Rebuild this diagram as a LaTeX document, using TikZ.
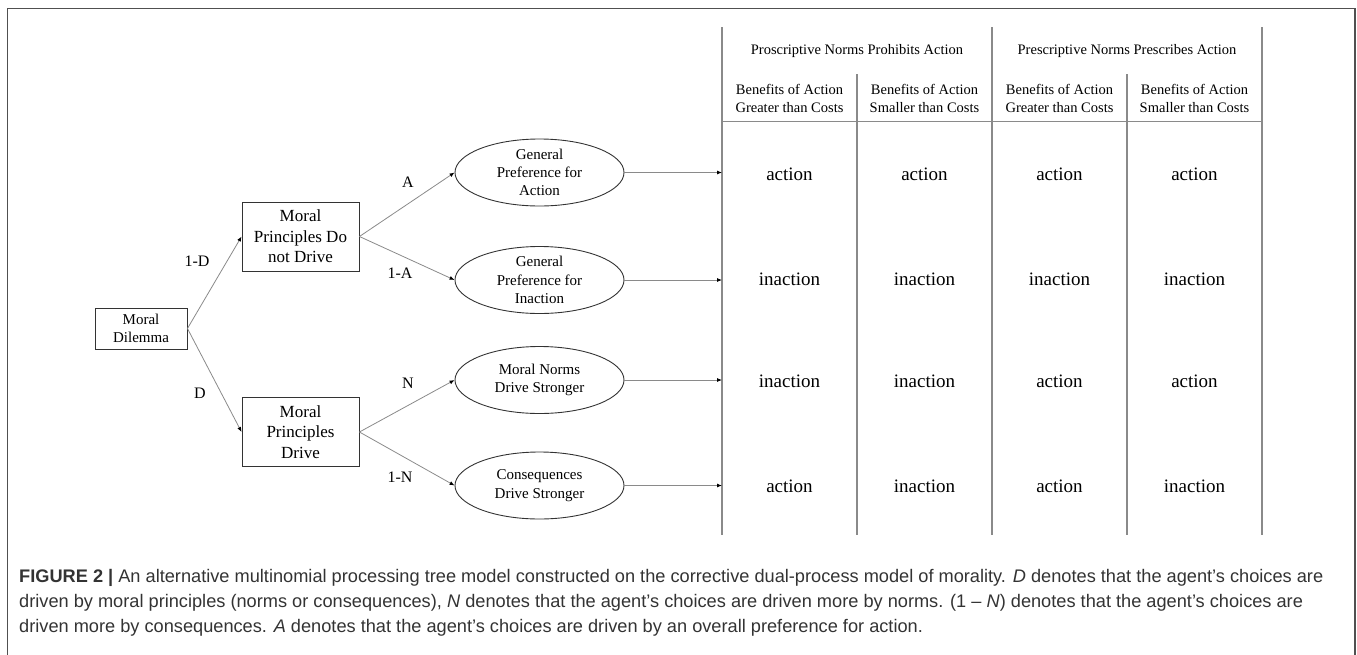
\documentclass[tikz,border=0pt]{standalone}
\usepackage{fontspec}
\setmainfont{Liberation Serif}
\newfontfamily\capfont[Ligatures=TeX]{Liberation Sans}
\usetikzlibrary{shapes.geometric, arrows.meta}
\definecolor{linegray}{HTML}{8A8A8A}
\definecolor{framegray}{HTML}{505050}
\definecolor{captext}{HTML}{333333}
\tikzset{
    base/.style = {draw=black!80, line width=0.9pt, align=center},
    % Tree nodes
    root/.style  = {base, rectangle, minimum width=92pt, minimum height=41pt, inner sep=0pt, font=\fontsize{15}{18}\selectfont},
    state/.style = {base, rectangle, minimum width=117pt, minimum height=69pt, inner sep=0pt, font=\fontsize{17}{20.5}\selectfont},
    pref/.style  = {base, ellipse, minimum width=169pt, minimum height=67pt, inner xsep=0pt, inner ysep=-6pt, font=\fontsize{15}{18.3}\selectfont},
    % Edges and labels
    arrow/.style = {draw=linegray, line width=0.8pt, -{Latex[length=5pt, width=4pt, color=black]}},
    prob/.style  = {font=\fontsize{16}{18}\selectfont},
    % Outcome table
    grid/.style  = {draw=linegray, line width=1.3pt},
    head/.style  = {align=center, font=\fontsize{14.5}{18.3}\selectfont},
    cell/.style  = {font=\fontsize{19}{22}\selectfont},
    caption/.style = {anchor=north west, align=left, inner sep=0pt, text=captext, font=\capfont\fontsize{18.2}{25}\selectfont}
}

\begin{document}
\begin{tikzpicture}[x=1pt, y=-1pt]
    \useasboundingbox (0,0) rectangle (1357,654);
    % Frame (open at the bottom)
    \draw [framegray, line width=1.2pt] (7.5,670) -- (7.5,8.5) -- (1355,8.5) -- (1355,670);

    % Tree
    \node (dilemma) [root]  at (141,328.5) {Moral\\Dilemma};
    \node (nodrive) [state] at (300.5,236.5) {Moral\\Principles Do\\not Drive};
    \node (drive)   [state] at (300.5,432) {Moral\\Principles\\Drive};

    \node (genact)   [pref] at (539.5,172.5) {General\\Preference for\\Action};
    \node (geninact) [pref] at (539.5,280) {General\\Preference for\\Inaction};
    \node (norms)    [pref] at (539.5,380) {Moral Norms\\Drive Stronger};
    \node (conseq)   [pref] at (539.5,485.5) {Consequences\\Drive Stronger};

    \draw [arrow] (dilemma.east) -- (nodrive.west);
    \draw [arrow] (dilemma.east) -- (drive.west);
    \draw [arrow] (nodrive.east) -- (genact.west);
    \draw [arrow] (nodrive.east) -- (geninact.west);
    \draw [arrow] (drive.east) -- (norms.west);
    \draw [arrow] (drive.east) -- (conseq.west);

    \node (p1d) [prob] at (197,261) {1-D};
    \node (pd)  [prob] at (200,393) {D};
    \node (pa)  [prob] at (408,182) {A};
    \node (p1a) [prob] at (400,273) {1-A};
    \node (pn)  [prob] at (408,383) {N};
    \node (p1n) [prob] at (400,477) {1-N};

    % Outcome table
    \coordinate (tab) at (722,27);
    \foreach \x in {722,992,1262}
        \draw [grid] (\x,27) -- (\x,535);
    \foreach \x in {857,1127}
        \draw [grid] (\x,74) -- (\x,535);
    \draw [grid] (722,121.5) -- (1262,121.5);

    \node (proscr) [head] at (857,51) {Proscriptive Norms Prohibits Action};
    \node (prescr) [head] at (1127,51) {Prescriptive Norms Prescribes Action};
    \foreach \c/\x/\t in {1/789.5/Greater, 2/924.5/Smaller, 3/1059.5/Greater, 4/1194.5/Smaller}
        \node (sub\c) [head] at (\x,98.5) {Benefits of Action\\\t\ than Costs};

    \draw [arrow] (genact.east) -- (genact.east -| tab);
    \draw [arrow] (geninact.east) -- (geninact.east -| tab);
    \draw [arrow] (norms.east) -- (norms.east -| tab);
    \draw [arrow] (conseq.east) -- (conseq.east -| tab);

    \foreach \r/\y/\a/\b/\c/\d in {1/174/action/action/action/action,
                                   2/279/inaction/inaction/inaction/inaction,
                                   3/381/inaction/inaction/action/action,
                                   4/486/action/inaction/action/inaction} {
        \node (c\r1) [cell] at (789.5,\y) {\a};
        \node (c\r2) [cell] at (924.5,\y) {\b};
        \node (c\r3) [cell] at (1059.5,\y) {\c};
        \node (c\r4) [cell] at (1194.5,\y) {\d};
    }

    % Caption
    \node (cap) [caption] at (19,569) {\textbf{FIGURE 2 |} An alternative multinomial processing tree model constructed on the corrective dual-process model of morality. \textit{D} denotes that the agent’s choices are\\
    driven by moral principles (norms or consequences), \textit{N} denotes that the agent’s choices are driven more by norms. (1 – \textit{N}) denotes that the agent’s choices are\\
    driven more by consequences. \textit{A} denotes that the agent’s choices are driven by an overall preference for action.};
\end{tikzpicture}
\end{document}
